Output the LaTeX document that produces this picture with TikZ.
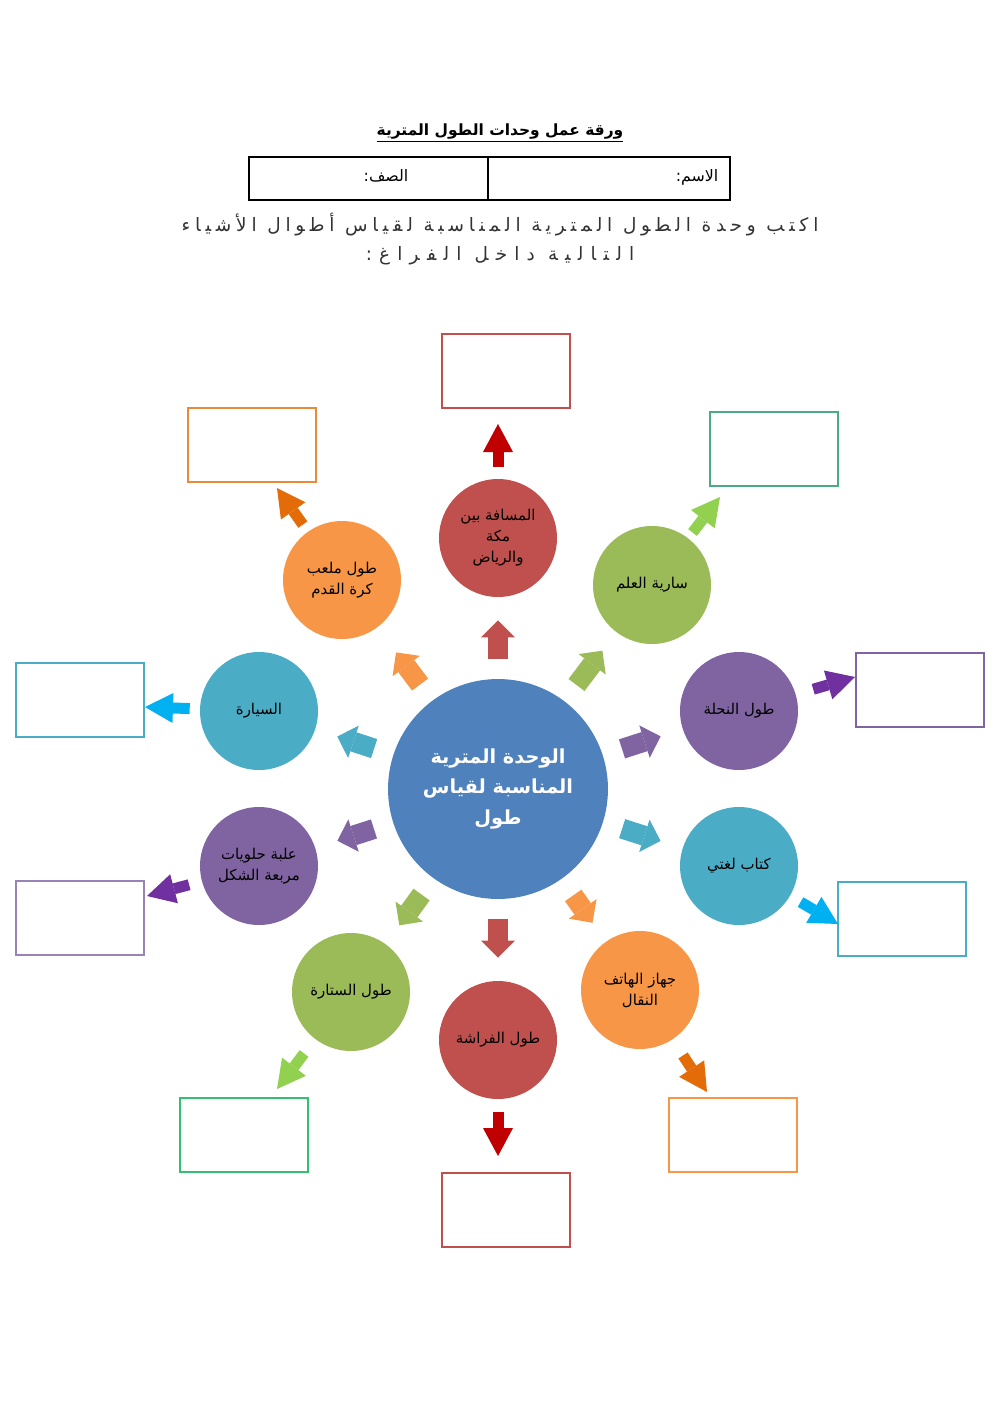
\documentclass[tikz,border=0pt]{standalone}
\usepackage{fontspec}
\usepackage{tikz}
\usetikzlibrary{arrows.meta}
\usetikzlibrary{positioning}
\TeXXeTstate=1
\newfontfamily\arabicfont[Script=Arabic]{DejaVu Sans}
\newfontfamily\arabicwide[Script=Arabic,LetterSpace=26]{DejaVu Sans}
\newfontfamily\arabicwider[Script=Arabic,LetterSpace=39]{DejaVu Sans}
\newcommand{\rl}[1]{\beginR #1\endR}
\tikzset{
    bubble/.style={
      circle,
      minimum size=2.36cm,
      inner sep=0pt,
      align=center,
      text=black,
      font=\arabicfont\fontsize{8.5}{12}\selectfont
    },
    answerbox/.style={
      rectangle,
      minimum width=2.56cm,
      minimum height=1.48cm,
      line width=0.8pt
    },
    inarrow/.style={
      line width=0.4cm,
      shorten <=0.4cm,
      shorten >=0.46cm,
      -{Triangle[width=0.68cm,length=0.34cm,line width=0pt]}
    },
    outarrow/.style={
      line width=0.22cm,
      -{Triangle[width=0.6cm,length=0.56cm,line width=0pt]}
    },
}
\definecolor{MyBlue}{HTML}{4F81BD}
\definecolor{MyRed}{HTML}{C0504D}
\definecolor{MyOrange}{HTML}{F79646}
\definecolor{MyGreen}{HTML}{9BBB59}
\definecolor{MyCyan}{HTML}{4BACC6}
\definecolor{MyPurple}{HTML}{8064A2}
\definecolor{MyDRed}{HTML}{C00000}
\definecolor{MyDOrange}{HTML}{E36C09}
\definecolor{MyLGreen}{HTML}{92D050}
\definecolor{MyLBlue}{HTML}{00B0F0}
\definecolor{MyDPurple}{HTML}{7030A0}
\definecolor{MyTeal}{HTML}{4BAC84}
\definecolor{MyBoxGreen}{HTML}{00B050}

\begin{document}
\begin{tikzpicture}[x=0.02cm,y=-0.02cm]
    \useasboundingbox[fill=white] (0,0) rectangle (1000,1413);

    % heading
    \draw (500,133) node[font=\arabicfont\bfseries\fontsize{8.8}{11}\selectfont] (Title) {\underline{\rl{ورقة عمل وحدات الطول المترية}}};
    \draw[line width=0.8pt] (249,157) rectangle (730,200);
    \draw[line width=0.8pt] (488,157) -- (488,200);
    \draw (697,177) node[font=\arabicfont\fontsize{9}{11}\selectfont] (Name) {\rl{الاسم:}};
    \draw (386,176) node[font=\arabicfont\fontsize{9}{11}\selectfont] (Class) {\rl{الصف:}};
    \draw (500,225) node[text=black!80,font=\arabicwide\fontsize{10.5}{12}\selectfont] (Task1) {\rl{اكتب وحدة الطول المترية المناسبة لقياس أطوال الأشياء}};
    \draw (500,256) node[text=black!80,font=\arabicwider\fontsize{10.5}{12}\selectfont] (Task2) {\rl{التالية داخل الفراغ:}};

    % centre and items
    \draw (498,789) node[bubble,fill=MyBlue,minimum size=4.4cm,text=white,font=\arabicfont\bfseries\fontsize{11}{17.6}\selectfont] (Main) {\rl{الوحدة المترية}\\\rl{المناسبة لقياس}\\\rl{طول}};
    \draw (498,538) node[bubble,fill=MyRed] (Q0) {\rl{المسافة بين}\\\rl{مكة}\\\rl{والرياض}};
    \draw (652,585) node[bubble,fill=MyGreen] (Q1) {\rl{سارية العلم}};
    \draw (739,711) node[bubble,fill=MyPurple] (Q2) {\rl{طول النحلة}};
    \draw (739,866) node[bubble,fill=MyCyan] (Q3) {\rl{كتاب لغتي}};
    \draw (640,990) node[bubble,fill=MyOrange] (Q4) {\rl{جهاز الهاتف}\\\rl{النقال}};
    \draw (498,1040) node[bubble,fill=MyRed] (Q5) {\rl{طول الفراشة}};
    \draw (351,992) node[bubble,fill=MyGreen] (Q6) {\rl{طول الستارة}};
    \draw (259,866) node[bubble,fill=MyPurple] (Q7) {\rl{علبة حلويات}\\\rl{مربعة الشكل}};
    \draw (259,711) node[bubble,fill=MyCyan] (Q8) {\rl{السيارة}};
    \draw (342,580) node[bubble,fill=MyOrange] (Q9) {\rl{طول ملعب}\\\rl{كرة القدم}};

    \path (Main) edge[inarrow,MyRed] (Q0);
    \path (Main) edge[inarrow,MyGreen] (Q1);
    \path (Main) edge[inarrow,MyPurple] (Q2);
    \path (Main) edge[inarrow,MyCyan] (Q3);
    \path (Main) edge[inarrow,MyOrange] (Q4);
    \path (Main) edge[inarrow,MyRed] (Q5);
    \path (Main) edge[inarrow,MyGreen] (Q6);
    \path (Main) edge[inarrow,MyPurple] (Q7);
    \path (Main) edge[inarrow,MyCyan] (Q8);
    \path (Main) edge[inarrow,MyOrange,shorten >=0.62cm] (Q9);

    % answer boxes
    \draw (506,371) node[answerbox,draw=MyRed] (B0) {};
    \draw (774,449) node[answerbox,draw=MyTeal] (B1) {};
    \draw (920,690) node[answerbox,draw=MyPurple] (B2) {};
    \draw (902,919) node[answerbox,draw=MyCyan] (B3) {};
    \draw (733,1135) node[answerbox,draw=MyOrange] (B4) {};
    \draw (506,1210) node[answerbox,draw=MyRed] (B5) {};
    \draw (244,1135) node[answerbox,draw=MyBoxGreen!80] (B6) {};
    \draw (80,918) node[answerbox,draw=MyPurple!80] (B7) {};
    \draw (80,700) node[answerbox,draw=MyCyan] (B8) {};
    \draw (252,445) node[answerbox,draw=MyDOrange!80] (B9) {};

    \coordinate (T0) at (498,424);
    \coordinate (T1) at (720,497);
    \coordinate (T2) at (855,677);
    \coordinate (T3) at (838,924);
    \coordinate (T4) at (707,1092);
    \coordinate (T5) at (498,1156);
    \coordinate (T6) at (277,1089);
    \coordinate (T7) at (147,896);
    \coordinate (T8) at (145,707);
    \coordinate (T9) at (277,488);

    \path (Q0) edge[outarrow,MyDRed,shorten <=0.24cm] (T0);
    \path (Q1) edge[outarrow,MyLGreen,shorten <=0.14cm] (T1);
    \path (Q2) edge[outarrow,MyDPurple,shorten <=0.36cm] (T2);
    \path (Q3) edge[outarrow,MyLBlue,shorten <=0.24cm] (T3);
    \path (Q4) edge[outarrow,MyDOrange,shorten <=0.38cm] (T4);
    \path (Q5) edge[outarrow,MyDRed,shorten <=0.26cm] (T5);
    \path (Q6) edge[outarrow,MyLGreen,shorten <=0.36cm] (T6);
    \path (Q7) edge[outarrow,MyDPurple,shorten <=0.26cm] (T7);
    \path (Q8) edge[outarrow,MyLBlue,shorten <=0.2cm] (T8);
    \path (Q9) edge[outarrow,MyDOrange,shorten <=0.17cm] (T9);
\end{tikzpicture}
\end{document}
